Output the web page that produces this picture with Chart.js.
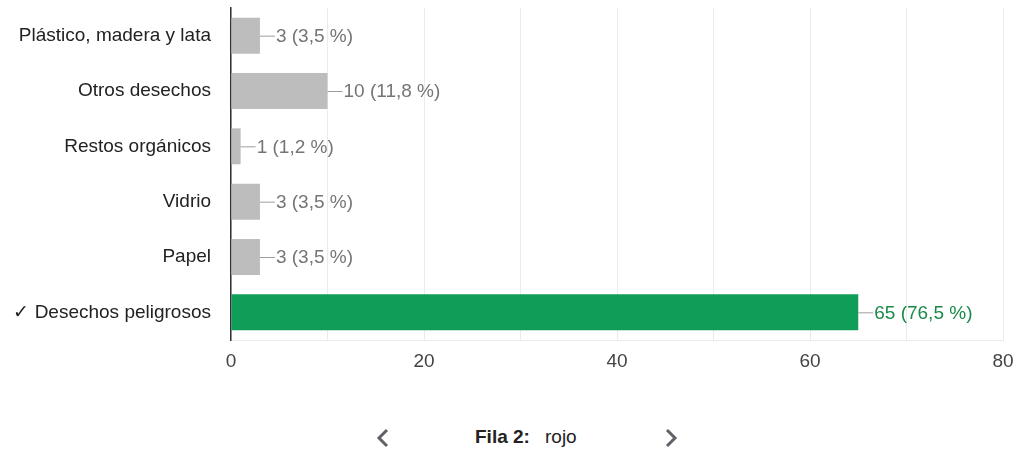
<!DOCTYPE html>
<html>
<head>
<meta charset="utf-8">
<script src="https://cdn.jsdelivr.net/npm/chart.js@4"></script>
<style>
  body { margin: 0; background: #fff; font-family: "Liberation Sans", Arial, sans-serif; }
  #wrap { position: relative; width: 1019px; height: 390px; }
  #nav { position: absolute; top: 420px; left: 0; width: 1019px; height: 34px; color: #222; }
  #nav span { position: absolute; top: 6px; font-size: 19px; }
  #nav svg { position: absolute; top: 8px; }
</style>
</head>
<body>
<div id="wrap"><canvas id="chart" width="1019" height="390"></canvas></div>
<div id="nav">
  <svg style="left:374px" width="18" height="20"><polyline points="13,2 5,10 13,18" fill="none" stroke="#5f6368" stroke-width="3"/></svg>
  <span style="left:475px;font-weight:bold">Fila 2:</span>
  <span style="left:545px">rojo</span>
  <svg style="left:662px" width="18" height="20"><polyline points="5,2 13,10 5,18" fill="none" stroke="#5f6368" stroke-width="3"/></svg>
</div>
<script>
const categories = ["Plástico, madera y lata", "Otros desechos", "Restos orgánicos", "Vidrio", "Papel", "✓ Desechos peligrosos"];
const counts = [3, 10, 1, 3, 3, 65];
const percents = ["3,5", "11,8", "1,2", "3,5", "3,5", "76,5"];
const xTickLabels = [0, 20, 40, 60, 80];

const grey = "#bdbdbd";
const green = "#0f9d58";
const barColors = counts.map((v, i) => (i === 5 ? green : grey));
const fontFamily = "'Liberation Sans', Arial, sans-serif";

// value labels with a short leader line
const valueLabels = {
  id: "valueLabels",
  afterDatasetsDraw(chart) {
    const ctx = chart.ctx;
    const meta = chart.getDatasetMeta(0);
    ctx.save();
    ctx.font = "19px " + fontFamily;
    ctx.textBaseline = "middle";
    meta.data.forEach((bar, i) => {
      const x = bar.x;
      const y = bar.y;
      ctx.strokeStyle = "#9e9e9e";
      ctx.lineWidth = 1;
      ctx.beginPath();
      ctx.moveTo(x, y + 0.5);
      ctx.lineTo(x + 15, y + 0.5);
      ctx.stroke();
      ctx.fillStyle = i === 5 ? "#1a8a4a" : "#757575";
      ctx.fillText(counts[i] + " (" + percents[i] + " %)", x + 16, y + 1);
    });
    ctx.restore();
  },
};

const chart = new Chart(document.getElementById("chart"), {
  type: "bar",
  data: {
    labels: categories,
    datasets: [{
      data: counts,
      backgroundColor: barColors,
      borderWidth: 0,
      categoryPercentage: 1,
      barPercentage: 0.65,
    }],
  },
  options: {
    indexAxis: "y",
    responsive: false,
    animation: false,
    layout: { padding: { top: 8, right: 16, left: 0, bottom: 0 } },
    plugins: { legend: { display: false }, tooltip: { enabled: false } },
    scales: {
      x: {
        min: 0,
        max: 80,
        ticks: {
          stepSize: 10,
          color: "#444",
          padding: 10,
          maxRotation: 0,
          autoSkip: false,
          font: { size: 19, family: fontFamily },
          callback: (v) => (xTickLabels.includes(v) ? v : ""),
        },
        grid: { color: "#ebebeb", drawTicks: false },
        border: { color: "#ebebeb" },
        afterFit: (s) => { s.height = 50; s.paddingLeft = 0; s.paddingRight = 0; },
      },
      y: {
        ticks: {
          color: "#222",
          padding: 20,
          font: { size: 19, family: fontFamily },
        },
        grid: { display: false, drawTicks: false },
        border: { color: "#333", width: 1.5 },
        afterFit: (s) => { s.width = 231; s.paddingTop = 0; s.paddingBottom = 0; },
      },
    },
  },
  plugins: [valueLabels],
});
</script>
</body>
</html>
